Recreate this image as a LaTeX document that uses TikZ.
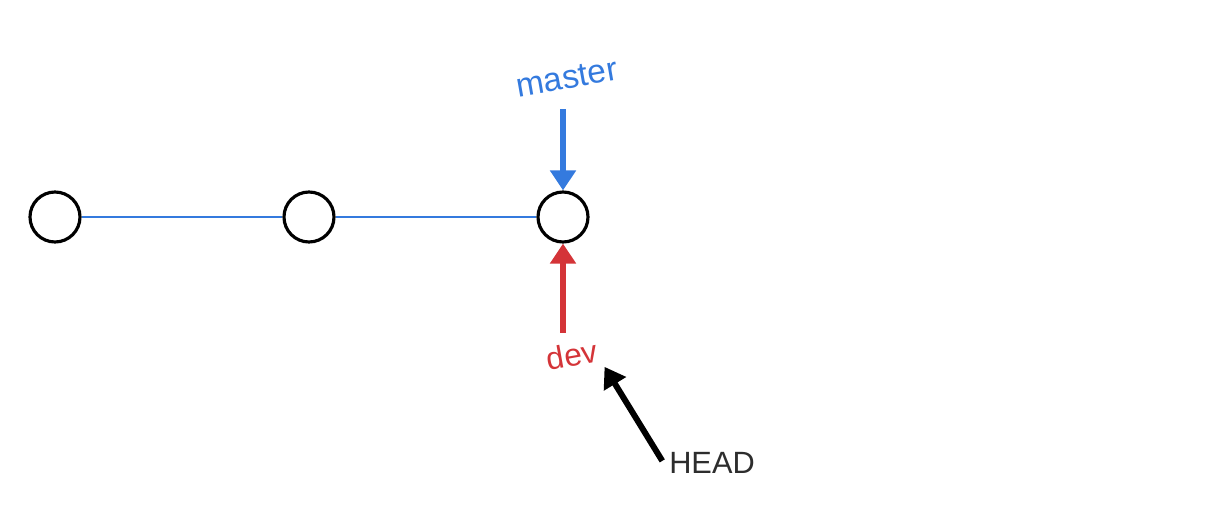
\documentclass[tikz,border=0pt]{standalone}
\usepackage{fontspec}
\setmainfont{Liberation Sans}
\usepackage{tikz}
\usetikzlibrary{arrows.meta}
\usetikzlibrary{positioning}

\definecolor{gitblue}{RGB}{52,122,222}
\definecolor{gitred}{RGB}{212,52,56}
\definecolor{headgray}{RGB}{45,45,45}

\begin{document}
\begin{tikzpicture}[thick]
        \useasboundingbox (0,0) rectangle (24.4,10.24);

        % commits
        \node (c1) at (1.10,5.90) [shape=circle,draw=black, line width=1.8pt, inner sep=0pt, minimum size=1cm] {};
        \node (c2) at (6.18,5.90) [shape=circle,draw=black, line width=1.8pt, inner sep=0pt, minimum size=1cm] {};
        \node (c3) at (11.26,5.90) [shape=circle,draw=black, line width=1.8pt, inner sep=0pt, minimum size=1cm] {};

        % labels
        \node (master) at (11.34,8.68) [rotate=10, text=gitblue, inner sep=0.2cm, font=\fontsize{19}{22}\selectfont] {master};
        \node (dev) at (11.44,3.14) [rotate=10, text=gitred, inner sep=0.1cm, font=\fontsize{18}{21}\selectfont] {dev};
        \node (HEAD) at (14.24,0.98) [text=headgray, inner sep=0.1cm, font=\fontsize{17.5}{20}\selectfont] {HEAD};

        % connections
        \draw[-, gitblue, line width=1.3pt] (c1) -- (c2);
        \draw[-, gitblue, line width=1.3pt] (c2) -- (c3);
        \draw[-{Triangle[length=0.4cm,width=0.5cm]}, gitblue, line width=3.4pt, shorten <=0.2cm] (master.south -| c3) -- (c3.north);
        \draw[-{Triangle[length=0.4cm,width=0.5cm]}, gitred, line width=3.4pt, shorten <=0.1cm] (dev.north -| c3) -- (c3.south);
        \draw[-{Triangle[length=0.4cm,width=0.5cm]}, black, line width=3.4pt, shorten <=0.05cm] (HEAD.west) -- (dev.-30);
\end{tikzpicture}
\end{document}
